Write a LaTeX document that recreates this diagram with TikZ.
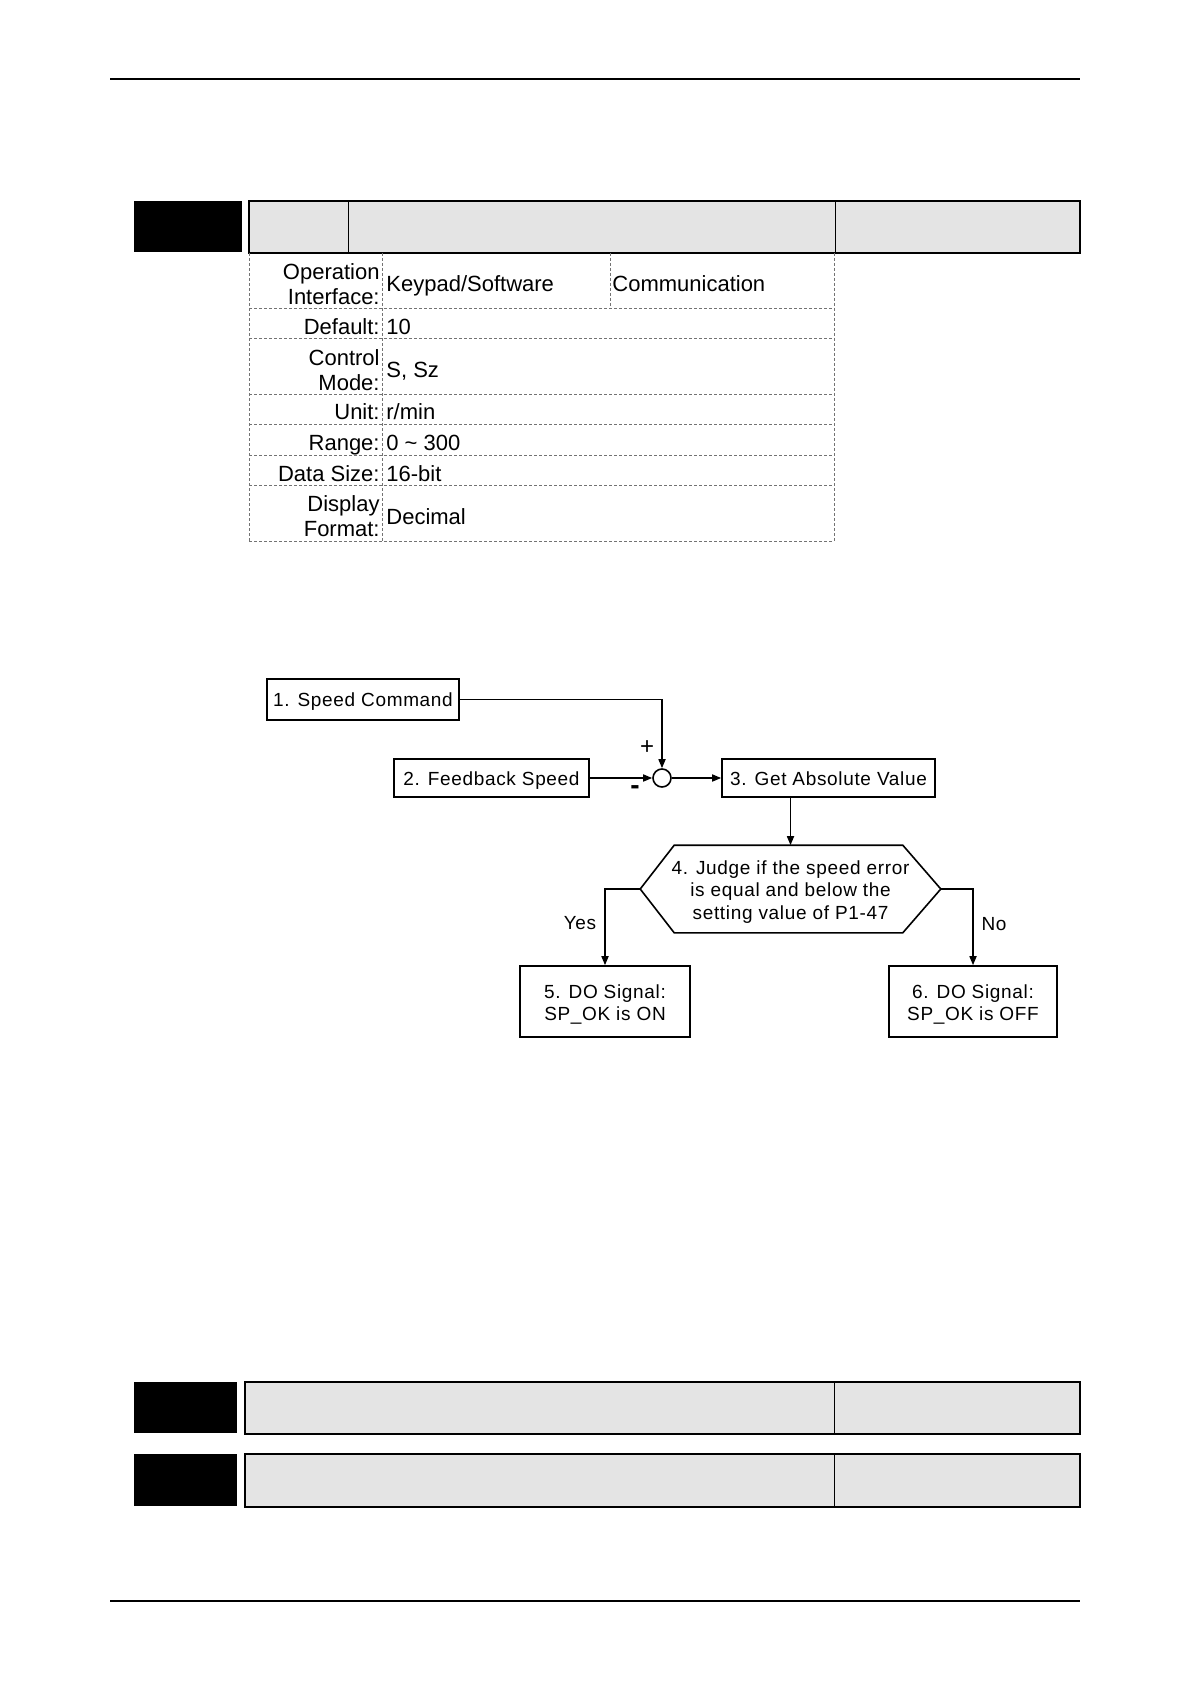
\documentclass[tikz,border=0pt]{standalone}
\usepackage{fontspec}
\setmainfont{Liberation Sans}
\newfontfamily\flowfont[LetterSpace=3.5]{Liberation Sans}
\usetikzlibrary{arrows.meta}
\definecolor{hdrgray}{RGB}{228,228,228}
\definecolor{dashgray}{RGB}{115,115,115}
\begin{document}
\begin{tikzpicture}[x=0.5pt,y=-0.5pt,
  pagerule/.style={line width=0.75pt},
  hdr/.style={fill=hdrgray, draw=black, line width=0.75pt},
  tbl/.style={draw=dashgray, line width=0.5pt, dash pattern=on 1.5pt off 1pt},
  lab/.style={font=\fontsize{11}{12.5}\selectfont, inner sep=0pt, align=right},
  val/.style={font=\fontsize{11}{12.5}\selectfont, inner sep=0pt},
  fbox/.style={draw, line width=0.8pt, inner sep=0pt, font=\flowfont\fontsize{9.5}{11}\selectfont, align=center},
  onebox/.style={fbox, text height=9.5pt, text depth=2.5pt},
  flowlab/.style={inner sep=0pt, font=\flowfont\fontsize{9.5}{11}\selectfont},
  conn/.style={line width=0.8pt, -{Triangle[length=4.5pt,width=3.5pt]}}
]
\path[use as bounding box, fill=white] (0,0) rectangle (1190,1684);

% page rules
\draw[pagerule] (110,79) -- (1080,79);
\draw[pagerule] (110,1601) -- (1080,1601);

% top header bar
\fill[black] (134,201) rectangle (242,252);
\draw[hdr] (249,201) rectangle (1080,253);
\draw[line width=0.5pt] (348,201) -- (348,253);
\draw[line width=0.5pt] (835,201) -- (835,253);

% bottom header bars
\fill[black] (134,1382) rectangle (237,1433);
\draw[hdr] (245,1382) rectangle (1080,1434);
\draw[line width=0.5pt] (834,1382) -- (834,1434);
\fill[black] (134,1454) rectangle (237,1506);
\draw[hdr] (245,1454) rectangle (1080,1507);
\draw[line width=0.5pt] (834,1454) -- (834,1507);

% table grid
\foreach \yy in {309,339,395,425,455,485,541}
  \draw[tbl] (249,\yy) -- (834,\yy);
\foreach \xx in {249,382,834}
  \draw[tbl] (\xx,253) -- (\xx,541);
\draw[tbl] (610,253) -- (610,309);

% table text
\node[lab, anchor=north east] (l1) at (380,263) {Operation\\Interface:};
\node[val, anchor=base west] (v1a) at (386,292) {Keypad/Software};
\node[val, anchor=base west] (v1b) at (612,292) {Communication};
\node[lab, anchor=base east] (l2) at (380,335) {Default:};
\node[val, anchor=base west] (v2) at (386,335) {10};
\node[lab, anchor=north east] (l3) at (380,349) {Control\\Mode:};
\node[val, anchor=base west] (v3) at (386,378) {S, Sz};
\node[lab, anchor=base east] (l4) at (380,420) {Unit:};
\node[val, anchor=base west] (v4) at (386,420) {r/min};
\node[lab, anchor=base east] (l5) at (380,451) {Range:};
\node[val, anchor=base west] (v5) at (386,451) {0 \textasciitilde{} 300};
\node[lab, anchor=base east] (l6) at (380,481) {Data Size:};
\node[val, anchor=base west] (v6) at (386,481) {16-bit};
\node[lab, anchor=north east] (l7) at (380,495) {Display\\Format:};
\node[val, anchor=base west] (v7) at (386,524) {Decimal};

% flowchart
\node[onebox, minimum width=96pt, minimum height=20.5pt] (b1) at (363,699.5) {1. Speed Command};
\node[onebox, minimum width=97.5pt, minimum height=19pt] (b2) at (491.5,778) {2. Feedback Speed};
\node[draw, circle, line width=0.8pt, minimum size=9pt, inner sep=0pt] (sum) at (662,778) {};
\node[onebox, minimum width=106.5pt, minimum height=19pt] (b3) at (828.5,778) {3. Get Absolute Value};
\node[fbox, draw=none, font=\flowfont\fontsize{9.5}{11.25}\selectfont, text height=32pt, text depth=2pt,
  minimum width=149.5pt, minimum height=43pt] (hex) at (790.5,889)
  {4. Judge if the speed error\\is equal and below the\\setting value of P1-47};
\draw[line width=0.8pt] (hex.west) -- ([xshift=17pt]hex.north west) -- ([xshift=-19pt]hex.north east)
  -- (hex.east) -- ([xshift=-19pt]hex.south east) -- ([xshift=17pt]hex.south west) -- cycle;
\node[fbox, text height=20.5pt, text depth=2pt, minimum width=85pt, minimum height=35.5pt] (b5) at (605,1001.5) {5. DO Signal:\\SP\_OK is ON};
\node[fbox, text height=20.5pt, text depth=2pt, minimum width=84pt, minimum height=35.5pt] (b6) at (973,1001.5) {6. DO Signal:\\SP\_OK is OFF};

\draw[conn] (b1.east) -| (sum.north);
\draw[conn] (b2.east) -- (sum.west);
\draw[conn] (sum.east) -- (b3.west);
\draw[conn] (b3.south -| hex.north) -- (hex.north);
\draw[conn] (hex.west) -| (b5.north);
\draw[conn] (hex.east) -| (b6.north);

\node[inner sep=0pt, font=\fontsize{12}{12}\selectfont] (plus) at (647,748) {+};
\node[inner sep=0pt, font=\bfseries\fontsize{14}{14}\selectfont] (minus) at (635,790) {-};
\node[flowlab] (yes) at (580,923) {Yes};
\node[flowlab] (no) at (994,924) {No};
\end{tikzpicture}
\end{document}
